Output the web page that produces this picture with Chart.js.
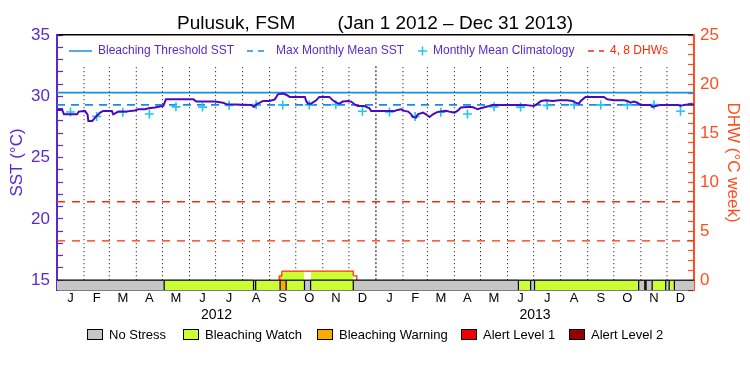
<!DOCTYPE html>
<html>
<head>
<meta charset="utf-8">
<script src="https://cdn.jsdelivr.net/npm/chart.js@4.4.1/dist/chart.umd.min.js"></script>
<style>
  body { margin: 0; background: #fff; }
  #wrap { position: relative; width: 750px; height: 375px; }
  #chart { position: absolute; left: 0; top: 0; }
  .stat { position: absolute; top: 329px; height: 12px; font: 13px "Liberation Sans", sans-serif; line-height: 12px; color: #000; white-space: nowrap; }
  .stat i { display: inline-block; width: 14px; height: 9px; border: 1px solid #000; vertical-align: top; margin-right: 6px; }
</style>
</head>
<body>
<div id="wrap">
  <canvas id="chart" width="750" height="375"></canvas>
  <div id="statusLegend"></div>
</div>
<script>
// ===============================
// PULUSUK, FSM – SST / DHW 2012-2013
// ===============================

// ---------- DATA ----------
const monthLabels = ["J", "F", "M", "A", "M", "J", "J", "A", "S", "O", "N", "D"];
const years = ["2012", "2013"];
const monthLengths = [
  [31, 29, 31, 30, 31, 30, 31, 31, 30, 31, 30, 31],
  [31, 28, 31, 30, 31, 30, 31, 31, 30, 31, 30, 31]
];

// monthly mean climatology (°C), Jan..Dec
const climatology = [28.72, 28.36, 28.70, 28.55, 29.14, 29.12, 29.26, 29.32, 29.30, 29.30, 29.32, 28.78];
const maxMonthlyMean = 29.3;
const bleachingThreshold = 30.3;
const dhwLevels = [4, 8];

// satellite SST, day number from Jan 1 2012
const sstDays = [0, 6, 8, 23, 25, 32, 35, 36, 40.5, 43, 45.5, 49.5, 53, 63, 64.5, 70.5, 78, 89.5, 93, 101,
  105, 112.5, 118, 122, 125, 156.5, 160, 181, 190.5, 194.5, 223, 226, 229, 236.5, 244, 250, 253.5, 259.5, 263.5, 267,
  284.5, 286, 288, 291.5, 297.5, 301, 312.5, 316.5, 320.5, 324, 328, 334, 337.5, 341.5, 345, 353, 358.5, 360.5, 387.5, 391,
  395, 398.5, 403, 406.5, 408.5, 412, 414, 420, 423.5, 427.5, 431.5, 435, 438.5, 446.5, 450, 456, 459.5, 463.5, 471, 476.5,
  480.5, 482.5, 486.5, 491.5, 496, 500, 530.5, 538.5, 547.5, 551.5, 555.5, 561, 568.5, 576.5, 585.5, 591.5, 595, 599, 601, 606.5,
  627.5, 631.5, 639, 650.5, 654.5, 658, 662, 666, 669.5, 681, 683, 687, 692.5, 712, 715.5, 719.5, 727, 731];
const sstValues = [28.89, 28.89, 28.53, 28.53, 28.75, 28.81, 28.53, 27.99, 27.99, 28.20, 28.40, 28.67, 28.81, 28.81, 28.53, 28.75, 28.75, 28.85, 28.94, 28.94,
  29.02, 29.08, 29.16, 29.21, 29.75, 29.75, 29.57, 29.57, 29.48, 29.35, 29.30, 29.13, 29.35, 29.62, 29.62, 29.75, 30.16, 30.22, 30.11, 29.95,
  29.95, 29.62, 29.40, 29.40, 29.67, 29.95, 29.95, 29.67, 29.48, 29.40, 29.57, 29.62, 29.57, 29.35, 29.21, 29.21, 29.02, 28.81, 28.81, 28.89,
  28.94, 28.81, 28.75, 28.53, 28.31, 28.26, 28.53, 28.67, 28.53, 28.31, 28.53, 28.67, 28.75, 28.81, 28.75, 28.67, 28.81, 29.08, 29.13, 29.13,
  29.02, 28.94, 29.02, 29.12, 29.21, 29.30, 29.30, 29.28, 29.21, 29.40, 29.62, 29.67, 29.62, 29.67, 29.67, 29.62, 29.48, 29.40, 29.62, 29.95,
  29.95, 29.75, 29.67, 29.67, 29.62, 29.48, 29.57, 29.48, 29.30, 29.30, 29.13, 29.21, 29.30, 29.30, 29.21, 29.30, 29.35, 29.30];

// degree heating weeks
const dhwDays = [255, 255, 258, 284, 291, 340, 344];
const dhwValues = [0, 0.45, 0.92, 0.92, 0.92, 0.45, 0];

// bleaching alert status bar
const statusNames = ["No Stress", "Bleaching Watch", "Bleaching Warning", "Alert Level 1", "Alert Level 2"];
const statusColors = ["#c6c6c6", "#ccff33", "#ffaa00", "#f00000", "#960000"];
const statusStarts = [0, 123, 225.5, 228, 256, 263, 284, 291, 340, 529.5, 543.5, 548, 667.5, 674.5, 676, 683, 698.5, 702.5, 708.5];
const statusLevels = [0, 1, 0, 1, 2, 1, 0, 1, 0, 1, 0, 1, 0, 1, 0, 1, 0, 1, 0];

// ---------- COLOURS ----------
const purple = "#5a28d0";
const sstColor = "#4a0bbf";
const blue = "#1a8ce6";
const cyan = "#1ec6f2";
const red = "#ff2a0a";
const orange = "#ff4d1f";

// ---------- CALENDAR ----------
const monthStarts = [];
const monthMids = [];
const yearMids = [];
let day = 0;
monthLengths.forEach(lens => {
  const yearStart = day;
  lens.forEach(len => {
    monthStarts.push(day);
    monthMids.push(day + len / 2);
    day += len;
  });
  yearMids.push((yearStart + day) / 2);
});
const totalDays = day;
const yearBreaks = [366];

function statusAt(d) {
  let lvl = statusLevels[0];
  statusStarts.forEach((s, i) => { if (d >= s) lvl = statusLevels[i]; });
  return lvl;
}

// ---------- DATASETS ----------
const monthLinePts = [];
monthStarts.slice(1).forEach(b => {
  monthLinePts.push({ x: b, y: 15 }, { x: b, y: 32.6 }, { x: b, y: null });
});

const statusEdgePts = [];
statusStarts.slice(1).forEach(b => {
  statusEdgePts.push({ x: b, y: -1 }, { x: b, y: 0 }, { x: b, y: null });
});

const statusPts = statusStarts.map(s => ({ x: s, y: 0 }));
statusPts.push({ x: totalDays, y: 0 });

const datasets = [
  {
    label: "SST",
    data: sstDays.map((d, i) => ({ x: d, y: sstValues[i] })),
    borderColor: sstColor,
    borderWidth: 2,
    pointRadius: 0,
    order: 0
  },
  {
    label: "Monthly Mean Climatology",
    data: monthMids.map((m, i) => ({ x: m, y: climatology[i % 12] })),
    showLine: false,
    pointStyle: "cross",
    pointRadius: 4.5,
    pointBorderColor: cyan,
    pointBorderWidth: 1.6,
    order: 1
  },
  {
    label: "Bleaching Threshold SST",
    data: [{ x: 0, y: bleachingThreshold }, { x: totalDays, y: bleachingThreshold }],
    borderColor: blue,
    borderWidth: 1.8,
    pointRadius: 0,
    order: 2
  },
  {
    label: "Max Monthly Mean SST",
    data: [{ x: 0, y: maxMonthlyMean }, { x: totalDays, y: maxMonthlyMean }],
    borderColor: blue,
    borderWidth: 1.8,
    borderDash: [8, 6],
    pointRadius: 0,
    order: 2
  },
  ...dhwLevels.map(lvl => ({
    label: lvl + " DHW",
    data: [{ x: 0, y: lvl }, { x: totalDays, y: lvl }],
    yAxisID: "dhw",
    borderColor: red,
    borderWidth: 1.3,
    borderDash: [8, 7],
    pointRadius: 0,
    order: 3
  })),
  {
    label: "status edges",
    data: statusEdgePts,
    yAxisID: "dhw",
    borderColor: "#000",
    borderWidth: 1.2,
    pointRadius: 0,
    order: 4
  },
  {
    label: "status",
    data: statusPts,
    yAxisID: "dhw",
    borderColor: "#000",
    borderWidth: 1.2,
    pointRadius: 0,
    fill: { value: -1 },
    backgroundColor: statusColors[0],
    segment: {
      backgroundColor: ctx => statusColors[statusLevels[ctx.p0DataIndex]]
    },
    order: 5
  },
  {
    label: "DHW",
    data: dhwDays.map((d, i) => ({ x: d, y: dhwValues[i] })),
    yAxisID: "dhw",
    stepped: true,
    borderColor: "#ff3300",
    borderWidth: 1.3,
    pointRadius: 0,
    fill: "origin",
    backgroundColor: "#fff",
    segment: {
      backgroundColor: ctx => {
        const lvl = statusAt((ctx.p0.parsed.x + ctx.p1.parsed.x) / 2);
        return lvl === 0 ? "#ffffff" : statusColors[lvl];
      }
    },
    order: 6
  },
  {
    label: "months",
    data: monthLinePts,
    borderColor: "#000",
    borderWidth: 1,
    borderDash: [1, 3],
    pointRadius: 0,
    segment: {
      borderDash: ctx => yearBreaks.includes(ctx.p0.parsed.x) ? [2, 2] : [1, 3]
    },
    order: 9
  }
];

// ---------- LEGEND IN PLOT ----------
// markX / textX are pixel offsets from the plot's left edge
const legendEntries = [
  { text: "Bleaching Threshold SST", mark: "solid", markX: 12, width: 23, textX: 41, markColor: blue, textColor: purple },
  { text: "Max Monthly Mean SST", mark: "dash", markX: 190, width: 17, textX: 219, markColor: blue, textColor: purple },
  { text: "Monthly Mean Climatology", mark: "cross", markX: 361, width: 9, textX: 376, markColor: cyan, textColor: purple },
  { text: "4, 8 DHWs", mark: "dash", markX: 531, width: 16, textX: 553, markColor: red, textColor: red }
];

const inPlotLegend = {
  id: "inPlotLegend",
  afterDatasetsDraw(chart) {
    const { ctx, chartArea } = chart;
    const y = chartArea.top + 16;
    ctx.save();
    ctx.font = '12px "Liberation Sans", sans-serif';
    ctx.textBaseline = "middle";
    legendEntries.forEach(e => {
      const x = chartArea.left + e.markX;
      ctx.strokeStyle = e.markColor;
      ctx.lineWidth = 1.5;
      ctx.beginPath();
      if (e.mark === "cross") {
        ctx.setLineDash([]);
        ctx.moveTo(x, y); ctx.lineTo(x + e.width, y);
        ctx.moveTo(x + e.width / 2, y - e.width / 2); ctx.lineTo(x + e.width / 2, y + e.width / 2);
      } else {
        ctx.setLineDash(e.mark === "dash" ? [6, 5] : []);
        ctx.moveTo(x, y); ctx.lineTo(x + e.width, y);
      }
      ctx.stroke();
      ctx.fillStyle = e.textColor;
      ctx.fillText(e.text, chartArea.left + e.textX, y);
    });
    ctx.restore();
  }
};

// ---------- CHART ----------
Chart.defaults.font.family = '"Liberation Sans", sans-serif';

new Chart(document.getElementById("chart"), {
  type: "line",
  data: { datasets },
  options: {
    responsive: false,
    animation: false,
    devicePixelRatio: 1,
    layout: { padding: 0 },
    plugins: {
      legend: { display: false },
      tooltip: { enabled: false },
      title: {
        display: true,
        text: "Pulusuk, FSM        (Jan 1 2012 \u2013 Dec 31 2013)",
        color: "#000",
        font: { size: 19, weight: "normal", lineHeight: 1.2 },
        padding: { top: 12.2, bottom: 0 }
      }
    },
    scales: {
      x: {
        type: "linear",
        position: "bottom",
        min: 0,
        max: totalDays,
        weight: 0,
        afterBuildTicks: axis => { axis.ticks = monthMids.map(v => ({ value: v })); },
        afterFit: axis => { axis.height = 16; },
        ticks: {
          autoSkip: false,
          maxRotation: 0,
          padding: 1,
          color: "#000",
          font: { size: 13 },
          callback: (v, i) => monthLabels[i % 12]
        },
        grid: { display: false, drawTicks: false },
        border: { display: true, color: "#000", width: 1.5 }
      },
      xYear: {
        type: "linear",
        position: "bottom",
        min: 0,
        max: totalDays,
        weight: 1,
        afterBuildTicks: axis => { axis.ticks = yearMids.map(v => ({ value: v })); },
        afterFit: axis => { axis.height = 69; },
        ticks: {
          autoSkip: false,
          maxRotation: 0,
          padding: 1,
          color: "#000",
          font: { size: 14 },
          callback: (v, i) => years[i]
        },
        grid: { display: false, drawTicks: false },
        border: { display: false }
      },
      xTop: {
        type: "linear",
        position: "top",
        min: 0,
        max: totalDays,
        afterFit: axis => { axis.height = 0; },
        ticks: { display: false },
        grid: { display: false, drawTicks: false },
        border: { display: true, color: "#000", width: 1.5 }
      },
      y: {
        type: "linear",
        position: "left",
        min: 14.2,
        max: 35,
        afterFit: axis => { axis.width = 57; },
        ticks: {
          stepSize: 1,
          autoSkip: false,
          includeBounds: false,
          padding: 13,
          color: purple,
          font: { size: 17 },
          callback: v => (v % 5 === 0 ? v : "")
        },
        grid: { drawOnChartArea: false, tickLength: -6, color: purple, tickWidth: 1.2 },
        border: { color: purple, width: 2 },
        title: { display: true, text: "SST (°C)", color: purple, font: { size: 17 }, padding: { top: 7 } }
      },
      dhw: {
        type: "linear",
        position: "right",
        min: -1,
        max: 25,
        afterFit: axis => { axis.width = 56; },
        ticks: {
          stepSize: 1,
          autoSkip: false,
          padding: 12,
          color: orange,
          font: { size: 17 },
          callback: v => (v % 5 === 0 ? v : "")
        },
        grid: { drawOnChartArea: false, tickLength: -6, color: orange, tickWidth: 1.2 },
        border: { color: orange, width: 2 },
        title: { display: true, text: "DHW (°C week)", color: orange, font: { size: 17 }, padding: { top: 7 } }
      }
    }
  },
  plugins: [inPlotLegend]
});

// ---------- STATUS LEGEND ----------
const legendLeft = [87, 183, 317, 461, 569];
const statusLegend = document.getElementById("statusLegend");
statusNames.forEach((name, i) => {
  const div = document.createElement("div");
  div.className = "stat";
  div.style.left = legendLeft[i] + "px";
  div.innerHTML = `<i style="background:${statusColors[i]}"></i>${name}`;
  statusLegend.appendChild(div);
});
</script>
</body>
</html>
